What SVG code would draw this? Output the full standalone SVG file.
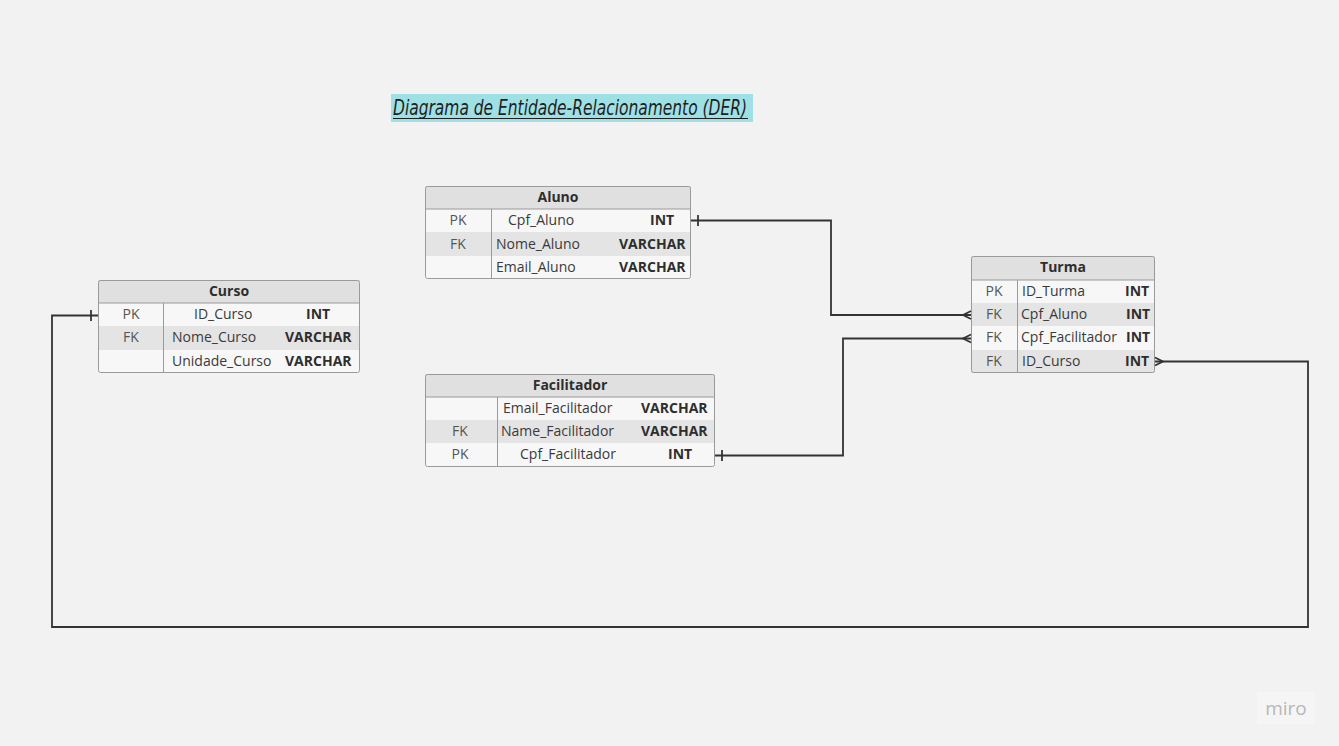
<svg xmlns="http://www.w3.org/2000/svg" width="1339" height="746" viewBox="0 0 1339 746">
<style>
.bg{fill:#f2f2f2}
.frame{fill:none;stroke:#9a9a9a;stroke-width:1}
.hd{fill:#e0e0e0}
.r1{fill:#f7f7f7}
.r2{fill:#e4e4e4}
.sep{stroke:#9a9a9a;stroke-width:1}
.t{font-family:"Open Sans","Liberation Sans",sans-serif;font-size:14px;fill:#3a3a3a}
.k{font-family:"Open Sans","Liberation Sans",sans-serif;font-size:14px;fill:#555}
.b{font-family:"Open Sans","Liberation Sans",sans-serif;font-size:14px;font-weight:bold;fill:#2e2e2e}
.h{font-family:"Open Sans","Liberation Sans",sans-serif;font-size:14px;font-weight:bold;fill:#2e2e2e;text-anchor:middle}
.c{text-anchor:middle}
.ln{fill:none;stroke:#333;stroke-width:1.8}
</style>
<rect class="bg" x="0" y="0" width="1339" height="746"/>

<g id="title">
<rect x="391" y="94" width="362" height="28" fill="#9fe0e5"/>
<text x="393" y="115" font-family="'DejaVu Sans','Liberation Sans',sans-serif" font-style="italic" font-size="21" fill="#1e1e1e" textLength="354" lengthAdjust="spacingAndGlyphs">Diagrama de Entidade-Relacionamento (DER)</text>
<line x1="393" y1="118.5" x2="748" y2="118.5" stroke="#1e1e1e" stroke-width="1.2"/>
</g>

<g id="aluno">
<rect class="hd" x="425" y="186" width="266" height="23"/>
<rect class="r1" x="425" y="209" width="266" height="23"/>
<rect class="r2" x="425" y="232" width="266" height="24"/>
<rect class="r1" x="425" y="256" width="266" height="23"/>
<line class="sep" x1="425" y1="209" x2="691" y2="209"/>
<line class="sep" x1="491.5" y1="209" x2="491.5" y2="279"/>
<rect class="frame" x="425.5" y="186.5" width="265" height="92" rx="2"/>
<text class="h" x="558" y="202">Aluno</text>
<text class="k c" x="458" y="225">PK</text>
<text class="t" x="508" y="225">Cpf_Aluno</text>
<text class="b" x="650" y="225">INT</text>
<text class="k c" x="458" y="249">FK</text>
<text class="t" x="496" y="249">Nome_Aluno</text>
<text class="b" x="619" y="249">VARCHAR</text>
<text class="t" x="496" y="272">Email_Aluno</text>
<text class="b" x="619" y="272">VARCHAR</text>
</g>

<g id="curso">
<rect class="hd" x="98" y="280" width="262" height="23"/>
<rect class="r1" x="98" y="303" width="262" height="23"/>
<rect class="r2" x="98" y="326" width="262" height="24"/>
<rect class="r1" x="98" y="350" width="262" height="23"/>
<line class="sep" x1="98" y1="303" x2="360" y2="303"/>
<line class="sep" x1="163.5" y1="303" x2="163.5" y2="373"/>
<rect class="frame" x="98.5" y="280.5" width="261" height="92" rx="2"/>
<text class="h" x="229" y="296">Curso</text>
<text class="k c" x="131" y="319">PK</text>
<text class="t" x="194" y="319">ID_Curso</text>
<text class="b" x="306" y="319">INT</text>
<text class="k c" x="131" y="342">FK</text>
<text class="t" x="172" y="342">Nome_Curso</text>
<text class="b" x="285" y="342">VARCHAR</text>
<text class="t" x="172" y="366">Unidade_Curso</text>
<text class="b" x="285" y="366">VARCHAR</text>
</g>

<g id="facilitador">
<rect class="hd" x="425" y="374" width="290" height="23"/>
<rect class="r1" x="425" y="397" width="290" height="23"/>
<rect class="r2" x="425" y="420" width="290" height="23"/>
<rect class="r1" x="425" y="443" width="290" height="24"/>
<line class="sep" x1="425" y1="397" x2="715" y2="397"/>
<line class="sep" x1="497.5" y1="397" x2="497.5" y2="467"/>
<rect class="frame" x="425.5" y="374.5" width="289" height="92" rx="2"/>
<text class="h" x="570" y="390">Facilitador</text>
<text class="t" x="503" y="413">Email_Facilitador</text>
<text class="b" x="641" y="413">VARCHAR</text>
<text class="k c" x="460" y="436">FK</text>
<text class="t" x="501" y="436">Name_Facilitador</text>
<text class="b" x="641" y="436">VARCHAR</text>
<text class="k c" x="460" y="459">PK</text>
<text class="t" x="520" y="459">Cpf_Facilitador</text>
<text class="b" x="668" y="459">INT</text>
</g>

<g id="turma">
<rect class="hd" x="971" y="256" width="184" height="24"/>
<rect class="r1" x="971" y="280" width="184" height="23"/>
<rect class="r2" x="971" y="303" width="184" height="23"/>
<rect class="r1" x="971" y="326" width="184" height="24"/>
<rect class="r2" x="971" y="350" width="184" height="23"/>
<line class="sep" x1="971" y1="280" x2="1155" y2="280"/>
<line class="sep" x1="1017.5" y1="280" x2="1017.5" y2="373"/>
<rect class="frame" x="971.5" y="256.5" width="183" height="116" rx="2"/>
<text class="h" x="1063" y="272">Turma</text>
<text class="k c" x="994" y="296">PK</text>
<text class="t" x="1022" y="296">ID_Turma</text>
<text class="b" x="1125" y="296">INT</text>
<text class="k c" x="994" y="319">FK</text>
<text class="t" x="1021" y="319">Cpf_Aluno</text>
<text class="b" x="1126" y="319">INT</text>
<text class="k c" x="994" y="342">FK</text>
<text class="t" x="1021" y="342">Cpf_Facilitador</text>
<text class="b" x="1126" y="342">INT</text>
<text class="k c" x="994" y="366">FK</text>
<text class="t" x="1022" y="366">ID_Curso</text>
<text class="b" x="1125" y="366">INT</text>
</g>

<g id="miro">
<rect x="1257" y="692" width="58" height="32" fill="#f5f5f5"/>
<text x="1286" y="715" text-anchor="middle" font-family="'Open Sans','Liberation Sans',sans-serif" font-size="19" fill="#b8b8b8">miro</text>
</g>

<g id="connectors">
<path class="ln" d="M691,220.5 H831 V315 H971"/>
<line class="ln" x1="698" y1="215" x2="698" y2="226"/>
<path class="ln" d="M971,311 L963,315 L971,319"/>
<path class="ln" d="M715,455.5 H843 V338.5 H971"/>
<line class="ln" x1="722" y1="450" x2="722" y2="461"/>
<path class="ln" d="M971,334.5 L963,338.5 L971,342.5"/>
<path class="ln" d="M1155,361.5 H1308 V627 H52 V315.5 H98"/>
<path class="ln" d="M1155,357.5 L1163,361.5 L1155,365.5"/>
<line class="ln" x1="91" y1="310" x2="91" y2="321"/>
</g>
</svg>
